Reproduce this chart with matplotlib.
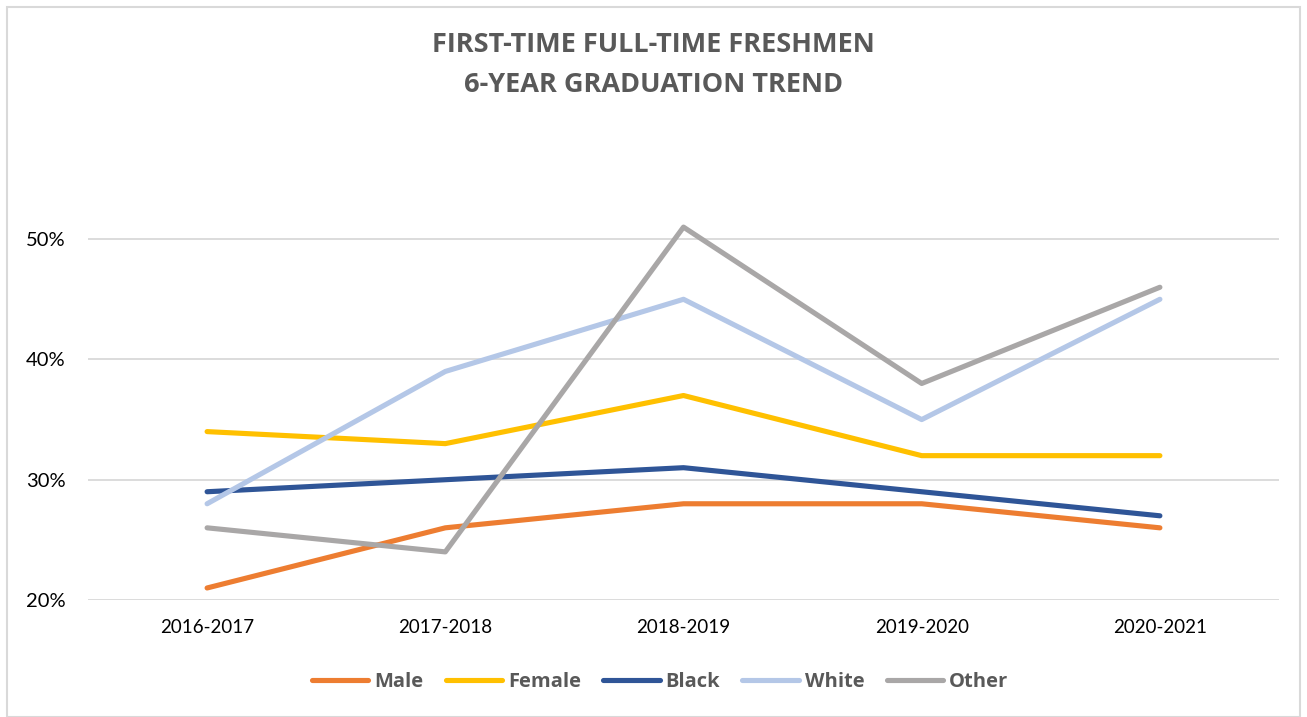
import matplotlib.pyplot as plt
from matplotlib.ticker import PercentFormatter
from matplotlib.patches import Rectangle

plt.rcParams['font.family'] = ['Lato', 'DejaVu Sans']

years = ['2016-2017', '2017-2018', '2018-2019', '2019-2020', '2020-2021']
male = [0.21, 0.26, 0.28, 0.28, 0.26]
female = [0.34, 0.33, 0.37, 0.32, 0.32]
black = [0.29, 0.30, 0.31, 0.29, 0.27]
white = [0.28, 0.39, 0.45, 0.35, 0.45]
other = [0.26, 0.24, 0.51, 0.38, 0.46]

series = [('Male', male, '#ED7D31'), ('Female', female, '#FFC000'),
          ('Black', black, '#2F5597'), ('White', white, '#B4C7E7'),
          ('Other', other, '#A9A7A7')]

fig = plt.figure(figsize=(13.07, 7.17), dpi=100)
ax = fig.add_axes([88/1307, 1 - 600/717, (1279 - 88)/1307, (600 - 179)/717])

x = range(len(years))
for name, vals, col in series:
    ax.plot(x, vals, color=col, lw=3.7, solid_capstyle='round', label=name)

ax.set_xlim(-0.5, len(years) - 0.5)
ax.set_ylim(0.2, 0.55)
ax.set_yticks([0.2, 0.3, 0.4, 0.5])
ax.yaxis.set_major_formatter(PercentFormatter(1.0, decimals=0))
ax.set_xticks(list(x))
ax.set_xticklabels(years)
ax.grid(axis='y', color='#D9D9D9', lw=1.3)
ax.set_axisbelow(True)
for s in ax.spines.values():
    s.set_visible(False)
ax.tick_params(length=0, labelsize=13.5, colors='black')
ax.tick_params(axis='x', pad=14)
ax.tick_params(axis='y', labelsize=14.5, pad=16)

fig.text(0.5, 1 - 32/717, 'FIRST-TIME FULL-TIME FRESHMEN\n6-YEAR GRADUATION TREND',
         ha='center', va='top', fontsize=19.5, fontweight='bold', color='#595959',
         linespacing=1.72, family=['Open Sans', 'DejaVu Sans'])

leg = fig.legend(loc='center', bbox_to_anchor=(0.505, 1 - 682/717), ncol=5,
                 frameon=False, handlelength=2.8, columnspacing=1.1,
                 handletextpad=0.3,
                 prop={'size': 14.5, 'weight': 'bold', 'family': ['Open Sans', 'DejaVu Sans']})
for t in leg.get_texts():
    t.set_color('#595959')

fig.patches.append(Rectangle((7/1307, 0), 1 - 14/1307, 1 - 7/717, transform=fig.transFigure,
                             fill=False, edgecolor='#D9D9D9', lw=1.5))

fig.savefig('out.png', dpi=100)
